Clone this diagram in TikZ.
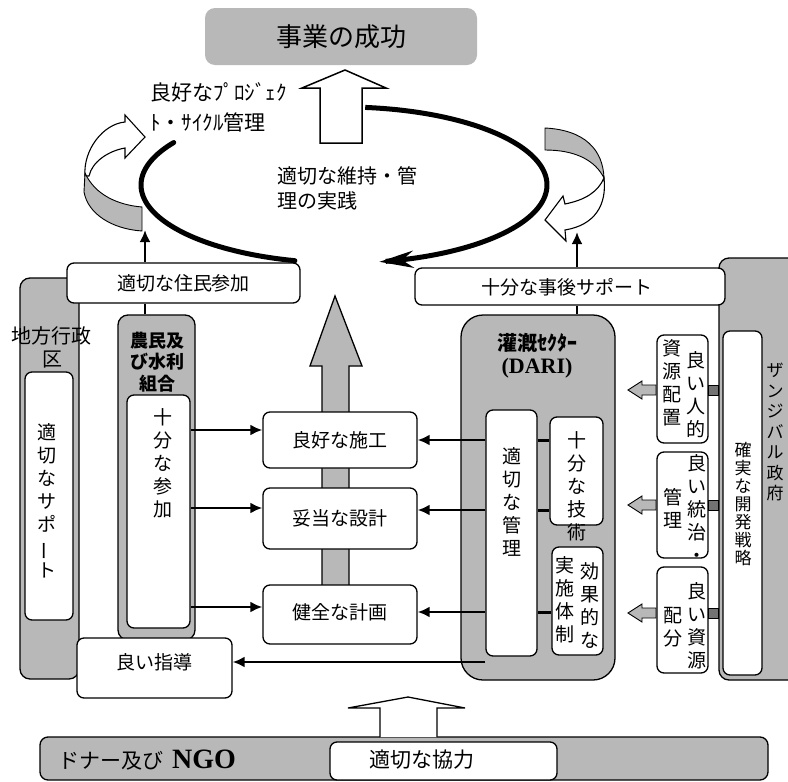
\documentclass[tikz,border=0pt]{standalone}
\usepackage{fontspec}
\setmainfont{Noto Sans CJK JP}
\newfontfamily\lserif{Liberation Serif}
\usepackage{graphicx}
\usetikzlibrary{arrows.meta}
\newcommand{\fsz}[2]{\fontsize{#1}{#2}\selectfont}
\begin{document}
\begin{tikzpicture}[x=1pt,y=-1pt,
  wbox/.style={draw, fill=white, rounded corners=7pt, line width=1.3pt, inner sep=0pt},
  gcol/.style={draw, fill=black!28, rounded corners=10pt, line width=1.3pt, inner sep=0pt},
  lbl/.style={inner sep=0pt, font=\fsz{19}{23}, align=center},
  conn/.style={line width=2.6pt, -{Latex[length=12pt,width=11pt]}},
  barc/.style={line width=3pt},
  gfill/.style={fill=black!28, draw, line width=0.9pt},
  wfill/.style={fill=white, draw, line width=1.1pt},
]
\useasboundingbox (0,0) rectangle (788,782);
\fill[white] (0,0) rectangle (788,782);

% ---------- top ----------
\node[fill=black!28, rounded corners=10pt, minimum width=272pt, minimum height=57pt, inner sep=0pt] (success) at (341,36.5) {};
\node[lbl, font=\fsz{26}{26}] (successT) at (341,37) {事業の成功};

% cycle ellipse
\draw[line width=5pt, line cap=round] plot[domain=147:256, samples=60] ({344+203*cos(\x)}, {185-78*sin(\x)});
\draw[line width=5pt, -{Stealth[length=34pt,width=17pt]}] plot[domain=84:-80, samples=90] ({344+203*cos(\x)}, {185-78*sin(\x)});

% white up arrow to success
\draw[wfill, line width=1.5pt] (320,143) -- (320,88) -- (302,88) -- (345,70) -- (386,88) -- (362,88) -- (362,143) -- cycle;

% left ribbon arrow
\draw[wfill] (85,176) .. controls (83,150) and (103,124) .. (125,122) -- (125,115) -- (145,137) -- (125,158) -- (125,148) .. controls (108,151) and (92,162) .. (89,176) -- cycle;
\draw[gfill] (85,173) .. controls (95,195) and (118,205) .. (142,207) -- (142,231) .. controls (112,229) and (88,214) .. (84,192) -- cycle;

% right ribbon arrow
\draw[wfill] (604,178) .. controls (607,205) and (595,225) .. (565,230) -- (566,241) -- (545,220) -- (563,196) -- (565,204) .. controls (585,200) and (598,192) .. (604,178) -- cycle;
\draw[gfill] (545,128) .. controls (585,130) and (603,150) .. (604,178) .. controls (595,160) and (575,150) .. (545,150) -- cycle;

% top labels
\node[lbl, anchor=west, font=\fsz{21}{21}] (pcm1) at (150,92) {良好なﾌﾟﾛｼﾞｪｸ};
\node[lbl, anchor=west, font=\fsz{21}{21}] (pcm2) at (150,122) {ﾄ・ｻｲｸﾙ管理};
\node[lbl, anchor=west, font=\fsz{20}{20}] (om1) at (277,176) {適切な維持・管};
\node[lbl, anchor=west, font=\fsz{20}{20}] (om2) at (277,201) {理の実践};

% ---------- columns ----------
\node[gcol, minimum width=59pt, minimum height=401pt] (chihou) at (49.5,478.5) {};
\node[gcol, minimum width=77pt, minimum height=325pt] (noumin) at (156.5,477.5) {};
\node[gcol, rounded corners=22pt, minimum width=154pt, minimum height=365pt] (dari) at (538,497.5) {};
\node[gcol, minimum width=81pt, minimum height=422pt] (zcol) at (759.5,469) {};

% column titles
\node[lbl, font=\fsz{20}{20}] (chihouT1) at (52,336) {地方行政};
\node[lbl, font=\fsz{20}{20}] (chihouT2) at (52,360) {区};
\node[lbl, font=\fsz{18}{21.5}\bfseries] (noumT) at (157,362) {農民及\\び水利\\組合};
\node[lbl, font=\fsz{20}{20}\bfseries] (dariT1) at (537,343) {灌漑ｾｸﾀｰ};
\node[lbl, font=\fsz{22}{22}\lserif\bfseries] (dariT2) at (537,368) {(DARI)};
\node[lbl, font=\fsz{17}{20.5}] (zT) at (775,432) {ザ\\ン\\ジ\\バ\\ル\\政\\府};

% vertical connectors up to the ribbons
\coordinate (tipL) at (145,230);
\coordinate (tipR) at (577,232);

% participation / after support boxes
\node[wbox, minimum width=233pt, minimum height=40pt] (juumin) at (183.5,283) {};
\node[lbl] (juuminT) at (183.5,283) {適切な住民参加};
\node[wbox, minimum width=310pt, minimum height=37pt] (jigo) at (570,286.5) {};
\node[lbl] (jigoT) at (567,287) {十分な事後サポート};

\draw[line width=2.4pt] (noumin.north -| tipL) -- (juumin.south -| tipL);
\draw[conn] (juumin.north -| tipL) -- (tipL);
\draw[line width=2.4pt] (dari.north -| tipR) -- (jigo.south -| tipR);
\draw[conn] (jigo.north -| tipR) -- (tipR);

% inner boxes
\node[wbox, minimum width=48pt, minimum height=248pt] (support) at (49,496) {};
\node[lbl] (supportT) at (47,501) {適\\切\\な\\サ\\ポ\\\rotatebox[origin=c]{90}{ー}\\ト};
\node[wbox, minimum width=63pt, minimum height=233pt] (sanka) at (158.5,511.5) {};
\node[lbl] (sankaT) at (163,463) {十\\分\\な\\参\\加};

\node[wbox, minimum width=51pt, minimum height=246pt] (kanri) at (511.5,533) {};
\node[lbl] (kanriT) at (512,502) {適\\切\\な\\管\\理};
\node[wbox, minimum width=53pt, minimum height=108pt] (gijutsu) at (576.5,471) {};
\node[lbl] (gijutsuT) at (577,486) {十\\分\\な\\技\\術};
\node[wbox, minimum width=51pt, minimum height=108pt] (taisei) at (577.5,601) {};
\node[lbl] (taiseiT1) at (590,606) {効\\果\\的\\な};
\node[lbl] (taiseiT2) at (565,600) {実\\施\\体\\制};

\node[wbox, minimum width=39pt, minimum height=344pt] (senryaku) at (742.5,503) {};
\node[lbl, font=\fsz{17}{18}] (senryakuT) at (743,504) {確\\実\\な\\開\\発\\戦\\略};

\node[wbox, minimum width=51pt, minimum height=108pt] (jinteki) at (682.5,389) {};
\node[lbl] (jintekiT1) at (696,395) {良\\い\\人\\的};
\node[lbl] (jintekiT2) at (672,383) {資\\源\\配\\置};
\node[wbox, minimum width=51pt, minimum height=106pt] (touchi) at (682.5,505) {};
\node[lbl] (touchiT1) at (697,508) {良\\い\\統\\治\\・};
\node[lbl] (touchiT2) at (673,508) {管\\理};
\node[wbox, minimum width=51pt, minimum height=106pt] (haibun) at (682.5,620) {};
\node[lbl] (haibunT1) at (697,626) {良\\い\\資\\源};
\node[lbl] (haibunT2) at (673,627) {配\\分};

% big gray up arrow
\draw[gfill, line width=1.3pt] (322,600) -- (322,366) -- (310,366) -- (335,296) -- (362,366) -- (349,366) -- (349,600) -- cycle;

% centre boxes
\node[wbox, minimum width=154pt, minimum height=56pt] (sekou) at (340,440) {};
\node[lbl] (sekouT) at (340,440) {良好な施工};
\node[wbox, minimum width=154pt, minimum height=61pt] (sekkei) at (340,518.5) {};
\node[lbl] (sekkeiT) at (340,518) {妥当な設計};
\node[wbox, minimum width=154pt, minimum height=59pt] (keikaku) at (340,614.5) {};
\node[lbl] (keikakuT) at (340,612) {健全な計画};
\node[wbox, minimum width=155pt, minimum height=60pt] (shidou) at (154.5,668) {};
\node[lbl] (shidouT) at (154,662) {良い指導};

% arrows from farmers
\draw[conn] (sanka.east |- 0,430) -- (sekou.west |- 0,430);
\draw[conn] (sanka.east |- 0,508) -- (sekkei.west |- 0,508);
\draw[conn] (sanka.east |- 0,607) -- (keikaku.west |- 0,607);

% arrows from DARI
\draw[conn] (kanri.west |- 0,440) -- (sekou.east |- 0,440);
\draw[conn] (kanri.west |- 0,510) -- (sekkei.east |- 0,510);
\draw[conn] (kanri.west |- 0,612) -- (keikaku.east |- 0,612);
\draw[conn] (kanri.west |- 0,662) -- (shidou.east |- 0,662);
\draw[barc] (kanri.east |- 0,440) -- (gijutsu.west |- 0,440);
\draw[barc] (kanri.east |- 0,510) -- (gijutsu.west |- 0,510);
\draw[barc] (kanri.east |- 0,612) -- (taisei.west |- 0,612);

% right small links and gray arrows
\foreach \yy/\bx in {390/jinteki,505/touchi,613/haibun}{
  \draw[fill=black!55, line width=1pt] (\bx.east |- 0,\yy-5) rectangle (zcol.west |- 0,\yy+5);
  \draw[gfill] (628,\yy) -- ++(14,-9) -- ++(0,4) -- ++(14,0) -- ++(0,10) -- ++(-14,0) -- ++(0,4) -- cycle;
}

% ---------- bottom ----------
\node[gcol, rounded corners=8pt, minimum width=728pt, minimum height=43pt] (donor) at (404,758.5) {};
\node[lbl, anchor=west, font=\fsz{21}{21}] (donorT) at (58,760) {ドナー及び\hspace{9pt}{\lserif\bfseries\fsz{28}{28}NGO}};
\node[wbox, minimum width=227pt, minimum height=38pt] (kyou) at (443.5,761) {};
\node[lbl, font=\fsz{21}{21}] (kyouT) at (422,760) {適切な協力};
\draw[wfill, line width=1.3pt] (380,737) -- (380,708) -- (348,708) -- (408,697) -- (465,708) -- (437,708) -- (437,737);

\end{tikzpicture}
\end{document}
